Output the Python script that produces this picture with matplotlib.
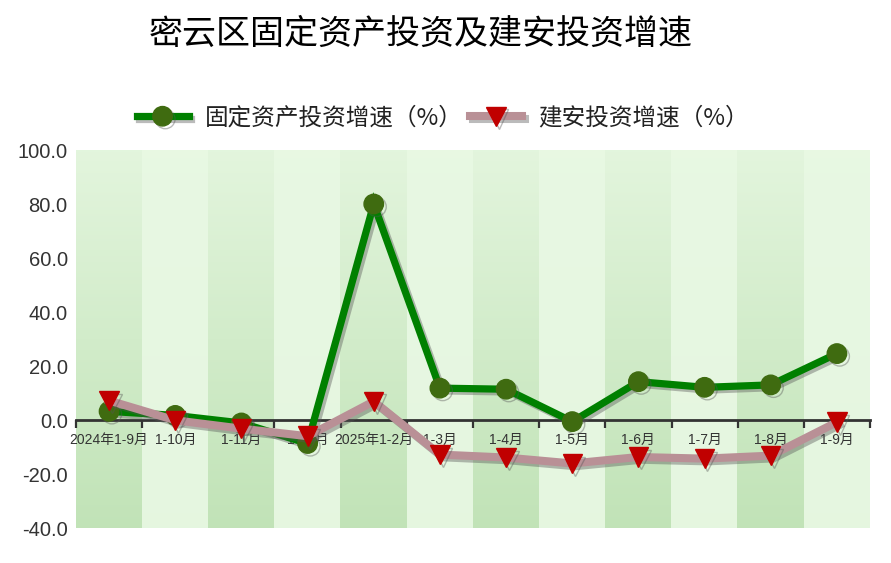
import numpy as np
import matplotlib
matplotlib.use("Agg")
import matplotlib.pyplot as plt
import matplotlib.patheffects as pe
from matplotlib.lines import Line2D

# data
months = ["2024年1-9月", "1-10月", "1-11月", "1-12月", "2025年1-2月", "1-3月",
          "1-4月", "1-5月", "1-6月", "1-7月", "1-8月", "1-9月"]
fixed_asset = [3.2, 1.7, -1.1, -8.7, 80.0, 11.8, 11.4, -0.6, 14.2, 12.1, 13.0, 24.6]
construction = [7.2, -0.1, -3.2, -6.0, 6.9, -12.8, -13.9, -16.1, -13.7, -14.3, -13.2, -0.8]
y_ticks = [-40, -20, 0, 20, 40, 60, 80, 100]

plt.rcParams['font.family'] = ['Noto Sans CJK SC', 'DejaVu Sans']

fig = plt.figure(figsize=(8.91, 5.63), dpi=100)
ax = fig.add_axes([76 / 891, 1 - 528 / 563, 794 / 891, 378 / 563])

n = len(months)
x = np.arange(n)

# striped background, dark stripes fade towards the top
rows = 200
t = np.linspace(0, 1, rows)[:, None]  # 0 bottom -> 1 top
dark_bot = np.array([0.757, 0.890, 0.718])
dark_top = np.array([0.890, 0.961, 0.867])
light_bot = np.array([0.898, 0.965, 0.878])
light_top = np.array([0.910, 0.973, 0.890])
img = np.zeros((rows, n, 3))
for i in range(n):
    if i % 2 == 0:
        img[:, i, :] = dark_bot + (dark_top - dark_bot) * t
    else:
        img[:, i, :] = light_bot + (light_top - light_bot) * t
ax.imshow(img, extent=(-0.5, n - 0.5, -40, 100), origin='lower',
          aspect='auto', interpolation='nearest', zorder=0)

shadow = [pe.SimpleLineShadow(offset=(2, -2), shadow_color='#555555', alpha=0.4),
          pe.Normal()]

ax.plot(x, fixed_asset, color='#008000', lw=5.2, marker='o', markersize=14,
        markerfacecolor='#3f6b10', markeredgecolor='#3f6b10',
        path_effects=shadow, zorder=3, solid_joinstyle='miter')
ax.plot(x, construction, color='#b99096', lw=5.8, marker='v', markersize=14,
        markerfacecolor='#c00000', markeredgecolor='#c00000',
        path_effects=shadow, zorder=4, solid_joinstyle='miter')

ax.set_xlim(-0.5, n - 0.5)
ax.set_ylim(-40, 100)

for s in ['top', 'right', 'left']:
    ax.spines[s].set_visible(False)
ax.spines['bottom'].set_position(('data', 0))
ax.spines['bottom'].set_color('#333333')
ax.spines['bottom'].set_linewidth(2)
ax.spines['bottom'].set_zorder(2)

ax.set_xticks(np.arange(-0.5, n, 1.0))
ax.set_xticklabels([])
ax.tick_params(axis='x', which='major', direction='out', length=6, width=1.6,
               color='#333333')
ax.set_xticks(x, minor=True)
ax.set_xticklabels(months, minor=True, fontsize=10, color='#333333',
                   family=['Liberation Sans', 'Noto Sans CJK SC'])
ax.tick_params(axis='x', which='minor', length=0, pad=9.5)

ax.set_yticks(y_ticks)
ax.set_yticklabels(["%.1f" % v for v in y_ticks], fontsize=14.5,
                   color='#333333', family=['Liberation Sans'])
ax.tick_params(axis='y', length=0, pad=6)

fig.text(0.472, 1 - 34 / 563, "密云区固定资产投资及建安投资增速", ha='center',
         va='center', fontsize=24.5, color='black', weight='medium')

h1 = Line2D([], [], color='#008000', lw=5.2, marker='o', markersize=14,
            markerfacecolor='#3f6b10', markeredgecolor='#3f6b10',
            path_effects=shadow)
h2 = Line2D([], [], color='#b99096', lw=5.8, marker='v', markersize=14,
            markerfacecolor='#c00000', markeredgecolor='#c00000',
            path_effects=shadow)
fig.legend([h1, h2], ["固定资产投资增速（%）", "建安投资增速（%）"],
           loc='center', bbox_to_anchor=(0.497, 1 - 118 / 563), ncol=2,
           frameon=False, fontsize=17, numpoints=1, handlelength=2.2,
           handletextpad=0.7, columnspacing=0.3, labelcolor='#222222')

fig.savefig("out.png", dpi=100)
